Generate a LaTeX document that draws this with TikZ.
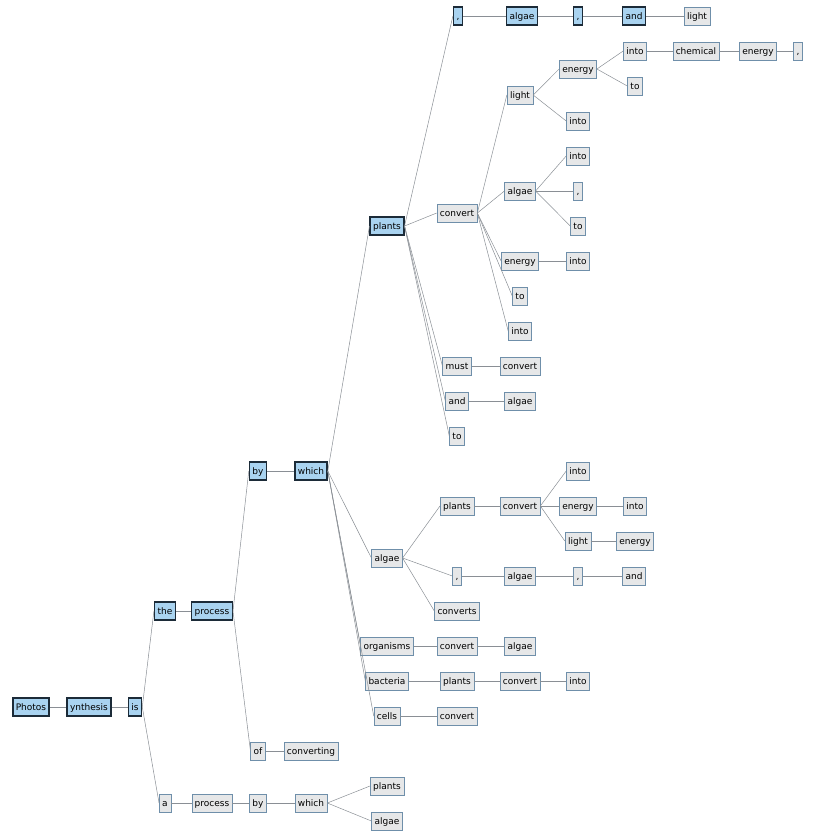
\documentclass[tikz,border=0pt]{standalone}
\usepackage{fontspec}
\setmainfont{DejaVu Sans}
\definecolor{hlfill}{HTML}{A9D3F0}
\definecolor{hldraw}{HTML}{1C2B38}
\definecolor{wfill}{HTML}{E6E7E8}
\definecolor{wdraw}{HTML}{6F8FAA}
\definecolor{edge}{HTML}{8A8F95}
\begin{document}
\begin{tikzpicture}[x=1pt, y=-1pt,
  w/.style = {draw=wdraw, fill=wfill, font=\fontsize{9}{11}\selectfont, inner sep=3pt, minimum height=18pt, text height=8pt, text depth=2pt},
  hl/.style = {w, draw=hldraw, fill=hlfill, line width=1.4pt},
  e/.style = {draw=edge, line width=0.5pt}]
  \useasboundingbox (0,0) rectangle (813,838);
  % main clause
  \node[hl] (photos) at (31,707) {Photos};
  \node[hl] (ynth) at (89,707) {ynthesis};
  \node[hl] (is) at (135,707) {is};
  \node[hl] (the) at (165,611) {the};
  \node[hl] (proc) at (212,611) {process};
  \node[hl] (by) at (258,471) {by};
  \node[hl] (which) at (311,471) {which};
  \node[hl] (plants) at (387,226) {plants};
  \node[hl] (c1) at (458,16) {,};
  \node[hl] (alg1) at (522,16) {algae};
  \node[hl] (c2) at (578,16) {,};
  \node[hl] (and1) at (634,16) {and};
  \node[w] (light1) at (697,16) {light};
  % plants branch
  \node[w] (conv1) at (457,213) {convert};
  \node[w] (light2) at (520,95) {light};
  \node[w] (en1) at (578,69) {energy};
  \node[w] (into1) at (635,51) {into};
  \node[w] (chem) at (696,51) {chemical};
  \node[w] (en2) at (758,51) {energy};
  \node[w] (c3) at (798,51) {,};
  \node[w] (to1) at (635,86) {to};
  \node[w] (into2) at (578,121) {into};
  \node[w] (alg2) at (520,191) {algae};
  \node[w] (into3) at (578,156) {into};
  \node[w] (c4) at (578,191) {,};
  \node[w] (to2) at (578,226) {to};
  \node[w] (en3) at (520,261) {energy};
  \node[w] (into4) at (578,261) {into};
  \node[w] (to3) at (520,296) {to};
  \node[w] (into5) at (520,331) {into};
  \node[w] (must) at (457,366) {must};
  \node[w] (conv2) at (520,366) {convert};
  \node[w] (and2) at (457,401) {and};
  \node[w] (alg3) at (520,401) {algae};
  \node[w] (to4) at (457,436) {to};
  % algae branch
  \node[w] (alg4) at (387,558) {algae};
  \node[w] (pl2) at (457,506) {plants};
  \node[w] (conv3) at (520,506) {convert};
  \node[w] (into6) at (578,471) {into};
  \node[w] (en4) at (578,506) {energy};
  \node[w] (into7) at (635,506) {into};
  \node[w] (light3) at (578,541) {light};
  \node[w] (en5) at (635,541) {energy};
  \node[w] (c5) at (457,576) {,};
  \node[w] (alg5) at (520,576) {algae};
  \node[w] (c6) at (578,576) {,};
  \node[w] (and3) at (634,576) {and};
  \node[w] (convs) at (457,611) {converts};
  \node[w] (org) at (387,646) {organisms};
  \node[w] (conv4) at (457,646) {convert};
  \node[w] (alg6) at (520,646) {algae};
  \node[w] (bact) at (387,681) {bacteria};
  \node[w] (pl3) at (457,681) {plants};
  \node[w] (conv5) at (520,681) {convert};
  \node[w] (into8) at (578,681) {into};
  \node[w] (cells) at (387,716) {cells};
  \node[w] (conv6) at (457,716) {convert};
  \node[w] (of) at (258,751) {of};
  \node[w] (convg) at (311,751) {converting};
  % second reading
  \node[w] (a) at (165,803) {a};
  \node[w] (proc2) at (212,803) {process};
  \node[w] (by2) at (258,803) {by};
  \node[w] (which2) at (311,803) {which};
  \node[w] (pl4) at (387,786) {plants};
  \node[w] (alg7) at (387,821) {algae};

  % tree edges
  \foreach \p/\c in {photos/ynth, ynth/is, is/the, is/a, the/proc, proc/by, proc/of,
      by/which, which/plants, which/alg4, which/org, which/bact, which/cells,
      plants/c1, c1/alg1, alg1/c2, c2/and1, and1/light1,
      plants/conv1, plants/must, plants/and2, plants/to4,
      conv1/light2, conv1/alg2, conv1/en3, conv1/to3, conv1/into5,
      light2/en1, light2/into2, en1/into1, en1/to1, into1/chem, chem/en2, en2/c3,
      alg2/into3, alg2/c4, alg2/to2, en3/into4, must/conv2, and2/alg3,
      alg4/pl2, alg4/c5, alg4/convs, pl2/conv3, conv3/into6, conv3/en4, conv3/light3,
      en4/into7, light3/en5, c5/alg5, alg5/c6, c6/and3,
      org/conv4, conv4/alg6, bact/pl3, pl3/conv5, conv5/into8, cells/conv6,
      of/convg, a/proc2, proc2/by2, by2/which2, which2/pl4, which2/alg7}
    \draw[e] (\p.east) -- (\c.west);
\end{tikzpicture}
\end{document}
